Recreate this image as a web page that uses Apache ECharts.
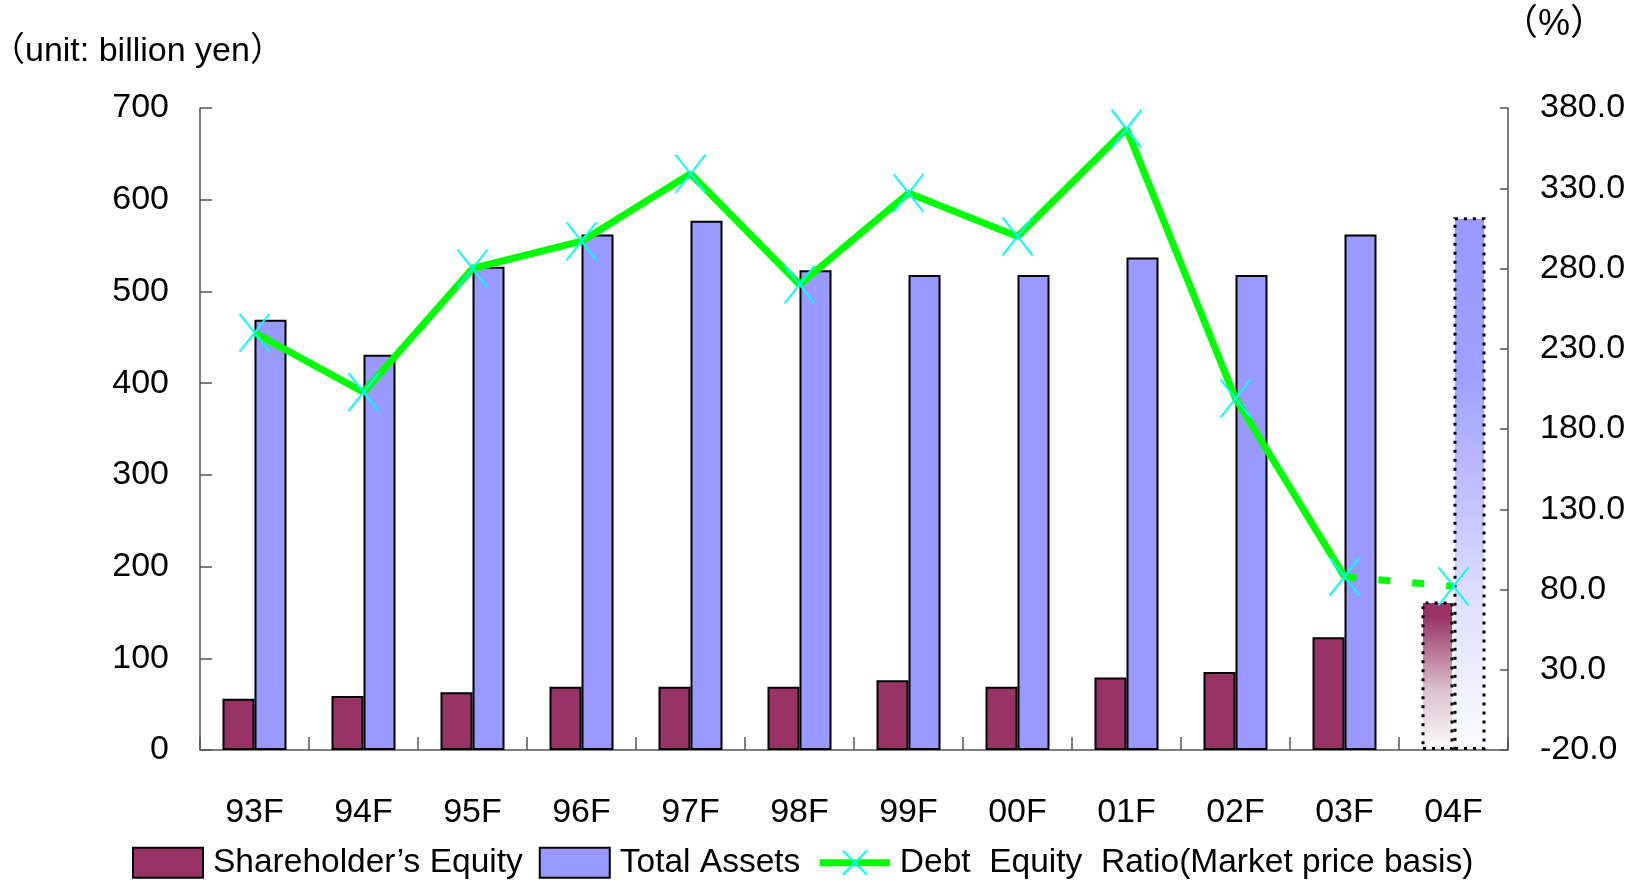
<!DOCTYPE html>
<html><head><meta charset="utf-8">
<script src="https://cdn.jsdelivr.net/npm/echarts/dist/echarts.min.js"></script>
<style>html,body{margin:0;padding:0;background:#fff}#c{width:1636px;height:883px}</style>
</head><body><div id="c"></div>
<script>
// ---- data ----
const categories = ['93F','94F','95F','96F','97F','98F','99F','00F','01F','02F','03F','04F'];
const equity = [56, 59, 63, 69, 69, 69, 76, 69, 79, 85, 123, 162];
const totalAssets = [469, 431, 527, 562, 577, 523, 518, 518, 537, 518, 562, 581];
const deRatio = [240, 203, 280, 297, 339, 270, 327, 300, 367, 199, 88, 82];
const seriesNames = ['Shareholder\u2019s Equity', 'Total Assets', 'Debt  Equity  Ratio(Market price basis)'];
const leftAxisRange = {min: 0, max: 700, interval: 100};
const rightAxisRange = {min: -20, max: 380, interval: 50};
const unitLeft = '\uFF08unit: billion yen\uFF09';
const unitRight = '\uFF08%\uFF09';

// ---- styles ----
const FONT = "'Liberation Sans Narrow','Liberation Sans','Noto Sans CJK JP',sans-serif";
const last = categories.length - 1;
const XPATH = 'path://M0,0L10,10M10,0L0,10';
const gradEq = {type:'linear', x:0, y:0, x2:0, y2:1, colorStops:[{offset:0,color:'#993366'},{offset:0.1,color:'#993366'},{offset:0.6,color:'#dcc3cf'},{offset:1,color:'#fcfbfb'}]};
const gradTa = {type:'linear', x:0, y:0, x2:0, y2:1, colorStops:[{offset:0,color:'#9999FF'},{offset:0.3,color:'#a0a0ff'},{offset:0.7,color:'#dcdcff'},{offset:1,color:'#fdfdff'}]};
const projBorder = {borderColor:'#000', borderWidth:3, borderType:[3,6]};

const chart = echarts.init(document.getElementById('c'), null, {renderer:'canvas'});
chart.setOption({
  animation: false,
  backgroundColor: '#fff',
  textStyle: {fontFamily: FONT, color: '#000'},
  grid: {left: 200, right: 128, top: 108, bottom: 133, containLabel: false, outerBoundsMode: 'none'},
  graphic: [
    {type:'text', left: -9, top: 35, style:{text: unitLeft, font: "34px " + FONT, fill:'#000'}},
    {type:'text', left: 1502, top: 7, style:{text: unitRight, font: "36px " + FONT, fill:'#000'}}
  ],
  legend: {
    data: [
      {name: seriesNames[0], icon: 'rect'},
      {name: seriesNames[1], icon: 'rect'},
      {name: seriesNames[2]}
    ],
    left: 127, top: 841, width: 1500, itemWidth: 70, itemHeight: 30, itemGap: 16,
    lineStyle: {width: 7},
    textStyle: {fontFamily: FONT, fontSize: 33.5, color: '#000', padding: [0, 0, 0, 5]},
    selectedMode: false
  },
  xAxis: {
    type: 'category', data: categories, boundaryGap: true,
    axisLine: {show: true, lineStyle: {color: '#555', width: 1.5}},
    axisTick: {show: true, inside: true, length: 13, lineStyle: {color: '#555', width: 1.5}},
    axisLabel: {fontFamily: FONT, fontSize: 34, color: '#000', margin: 46},
    splitLine: {show: false}
  },
  yAxis: [
    {type: 'value', min: leftAxisRange.min, max: leftAxisRange.max, interval: leftAxisRange.interval,
     axisLine: {show: true, lineStyle: {color: '#555', width: 1.5}},
     axisTick: {show: true, inside: true, length: 12, lineStyle: {color: '#555', width: 1.5}},
     axisLabel: {fontFamily: FONT, fontSize: 34, color: '#000', margin: 31},
     splitLine: {show: false}},
    {type: 'value', min: rightAxisRange.min, max: rightAxisRange.max, interval: rightAxisRange.interval,
     position: 'right',
     axisLine: {show: true, lineStyle: {color: '#555', width: 1.5}},
     axisTick: {show: true, inside: true, length: 8, lineStyle: {color: '#555', width: 1.5}},
     axisLabel: {fontFamily: FONT, fontSize: 34, color: '#000', margin: 32, formatter: v => v.toFixed(1)},
     splitLine: {show: false}}
  ],
  series: [
    {name: seriesNames[0], type: 'bar', barWidth: 32, barGap: '0%',
     itemStyle: {color: '#993366', borderColor: '#000', borderWidth: 2},
     data: equity.map((v, i) => i === last ? {value: v, itemStyle: Object.assign({color: gradEq}, projBorder)} : v)},
    {name: seriesNames[1], type: 'bar', barWidth: 32, barGap: '0%',
     itemStyle: {color: '#9999FF', borderColor: '#000', borderWidth: 2},
     data: totalAssets.map((v, i) => i === last ? {value: v, itemStyle: Object.assign({color: gradTa}, projBorder)} : v)},
    {name: seriesNames[2], type: 'line', yAxisIndex: 1, z: 5,
     symbol: XPATH, symbolSize: [30, 38], symbolKeepAspect: false,
     itemStyle: {color: '#00FFFF', borderColor: '#00FFFF', borderWidth: 2},
     lineStyle: {color: '#00FF00', width: 7},
     data: deRatio.map((v, i) => i < last ? v : '-')},
    {name: 'projection', type: 'line', yAxisIndex: 1, z: 5,
     symbol: XPATH, symbolSize: [30, 38], symbolKeepAspect: false,
     itemStyle: {color: '#00FFFF', borderColor: '#00FFFF', borderWidth: 2},
     lineStyle: {color: '#00FF00', width: 7, type: [12, 22]},
     data: deRatio.map((v, i) => i === last ? v : (i === last - 1 ? {value: v, symbol: 'none'} : '-'))}
  ]
});
</script></body></html>
